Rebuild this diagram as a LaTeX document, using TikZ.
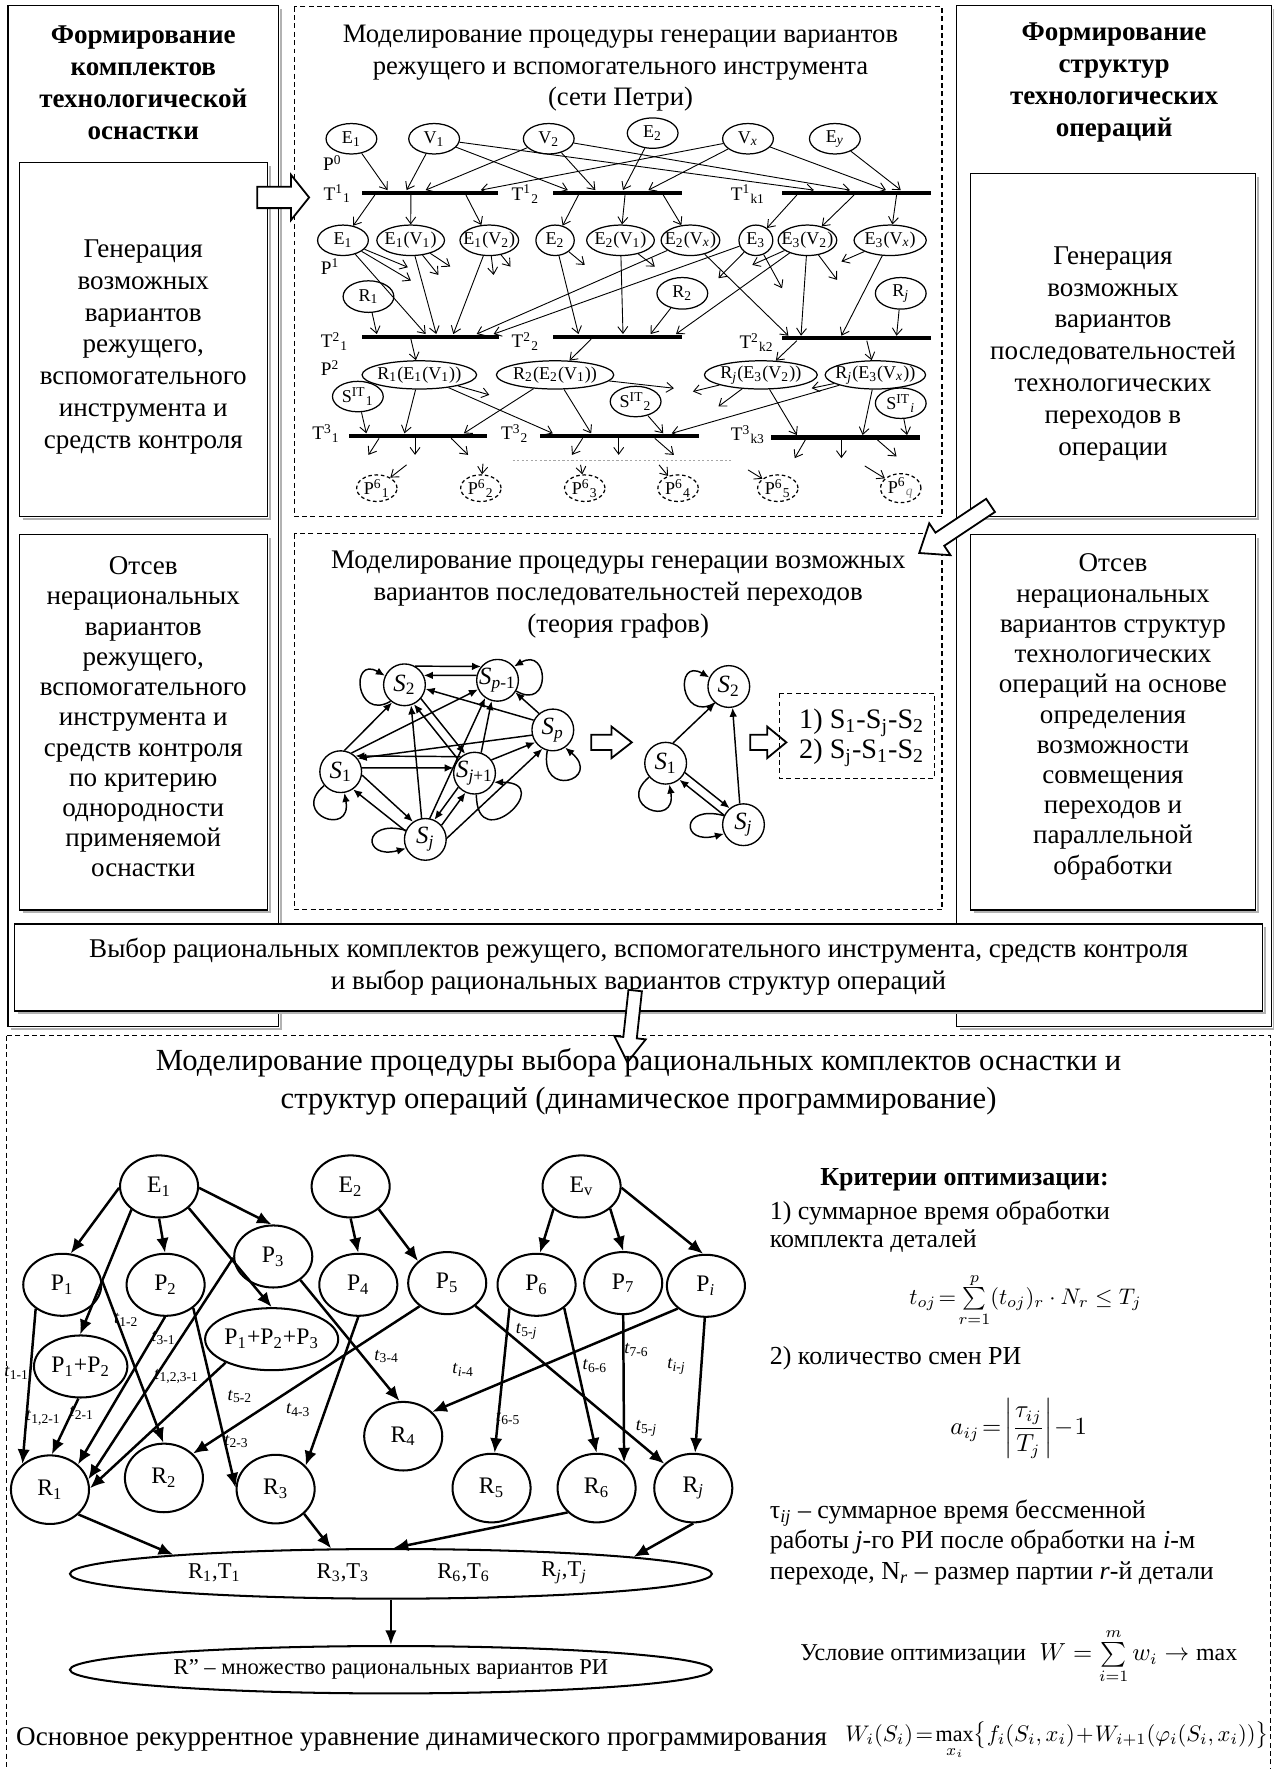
\documentclass[tikz,border=0pt]{standalone}
\usepackage{amsmath}
\usepackage{fontspec}
\setmainfont{Liberation Serif}
\usetikzlibrary{arrows.meta,shapes.geometric}

\newcommand\fs[2]{\fontsize{#1}{#2}\selectfont}
\newcommand\sbs[1]{\textsubscript{#1}}
\newcommand\sps[1]{\textsuperscript{#1}}
\newcommand\mb[1]{\makebox[0pt]{#1}}
\newcommand\supsub[2]{\sps{#1}\sbs{#2}}

% solid frame with a grey drop line on the right and bottom
\newcommand\framebx[5][]{%
  \draw[gray!60, line width=0.9pt] (#2+3,#5+2) -- (#4+2,#5+2) -- (#4+2,#3+3);
  \draw[line width=0.6pt,#1] (#2,#3) rectangle (#4,#5);}

% hollow block arrow: tail x, tail y, direction, length, half shaft, half head, head length
\newcommand\blockarrow[7]{%
  \begin{scope}[shift={(#1,#2)},rotate=#3]
    \draw[fill=white,line width=0.8pt,line join=miter]
      (0,-#5) -- (#4-#7,-#5) -- (#4-#7,-#6) -- (#4,0) -- (#4-#7,#6) -- (#4-#7,#5) -- (0,#5) -- cycle;
  \end{scope}}

\begin{document}
\begin{tikzpicture}[x=0.5pt,y=-0.5pt,
  every node/.style={inner sep=0pt},
  ctext/.style={align=center,font=\fs{12}{14.1}},
  pn/.style={ellipse,draw,line width=0.55pt,minimum width=22.5pt,minimum height=13.5pt,font=\fs{8}{9}},
  pnd/.style={pn,dash pattern=on 1.6pt off 1.2pt},
  tbar/.style={rectangle,fill=black,minimum height=1.8pt},
  pa/.style={line width=0.4pt,-{Straight Barb[length=3pt,width=4.4pt]}},
  lbl/.style={font=\fs{8.5}{9}},
  gn/.style={circle,draw,line width=0.6pt,minimum size=18.5pt,font=\fs{11}{12}},
  ga/.style={line width=0.65pt,-{Latex[length=4pt,width=3.4pt]}},
  dn/.style={ellipse,draw,line width=0.9pt,minimum width=34.6pt,minimum height=27.5pt,font=\fs{10.5}{12}},
  rn/.style={dn,minimum height=30.4pt},
  da/.style={line width=1.1pt,-{Latex[length=6.5pt,width=5.5pt]}},
  tl/.style={font=\fs{8}{9}},
  dbox/.style={draw,line width=0.5pt,dash pattern=on 2.2pt off 1.5pt},
  rtext/.style={anchor=west,font=\fs{11.5}{13.5}},
]
\path[use as bounding box,fill=white] (0,0) rectangle (1129,1568);

% ---------- frames ----------
\framebx{7}{5}{247}{910}
\framebx{848}{5}{1127}{910}
\framebx{17}{144}{237}{458}
\framebx{17}{474}{237}{806.5}
\framebx{860}{154}{1113}{458}
\framebx{860}{474}{1113}{806.5}
\draw[dbox] (261,6) rectangle (835,458);
\draw[dbox] (261,473) rectangle (835,806.5);
\draw[dbox] (6,918) rectangle (1126,1580);
\framebx[fill=white]{13}{819}{1119}{896}

% ---------- side columns ----------
\node[ctext,font=\fs{12}{14.2}\bfseries] (lhead) at (127,73.5) {Формирование\\комплектов\\технологической\\оснастки};
\node[ctext] (lgen) at (127,307.5) {Генерация\\возможных\\вариантов\\режущего,\\вспомогательного\\инструмента и\\средств контроля};
\node[ctext,font=\fs{12}{13.4}] (lcut) at (127,635.5) {Отсев\\нерациональных\\вариантов\\режущего,\\вспомогательного\\инструмента и\\средств контроля\\по критерию\\однородности\\применяемой\\оснастки};
\node[ctext,font=\fs{12}{14.2}\bfseries] (rhead) at (987.5,73.5) {Формирование\\структур\\технологических\\операций};
\node[ctext] (rgen) at (986.5,313.5) {Генерация\\возможных\\вариантов\\последовательностей\\технологических\\переходов в\\операции};
\node[ctext,font=\fs{12}{13.4}] (rcut) at (986.5,635.5) {Отсев\\нерациональных\\вариантов структур\\технологических\\операций на основе\\определения\\возможности\\совмещения\\переходов и\\параллельной\\обработки};
\node[align=center,font=\fs{12}{14}] (seltxt) at (566,857) {Выбор рациональных комплектов режущего, вспомогательного инструмента, средств контроля\\и выбор рациональных вариантов структур операций};

% ---------- block arrows ----------
\blockarrow{228}{175}{0}{46}{9.5}{20}{16}
\blockarrow{878}{448}{213.7}{76}{7}{17}{22}
\blockarrow{524}{658}{0}{36}{6.8}{14}{18}
\blockarrow{665}{658}{0}{32}{6.8}{14}{17}
\blockarrow{563}{878}{263.8}{64}{6}{14}{22}

% ---------- Petri net ----------
\node[align=center,font=\fs{11.8}{14}] (ptitle) at (550,60.6) {Моделирование процедуры генерации вариантов\\режущего и вспомогательного инструмента\\(сети Петри)};

\node[pn] (pE1) at (311.5,123) {\mb{E\sbs{1}}};
\node[pn] (pV1) at (384.8,123) {\mb{V\sbs{1}}};
\node[pn] (pV2) at (486.4,123) {\mb{V\sbs{2}}};
\node[pn] (pE2) at (578.5,118) {\mb{E\sbs{2}}};
\node[pn] (pVx) at (663,123) {\mb{V\sbs{\textit{x}}}};
\node[pn] (pEy) at (740,123) {\mb{E\sbs{\textit{y}}}};
\node[lbl] (lP0) at (294.6,144.7) {P\sps{0}};

\node[tbar,minimum width=60pt] (T11) at (381,170.7) {};
\node[tbar,minimum width=57.4pt] (T12) at (547.4,170.7) {};
\node[tbar,minimum width=65.9pt] (Tk1) at (758.9,170.7) {};
\node[lbl] (lT11) at (299,172) {T\supsub{1}{1}};
\node[lbl] (lT12) at (465.7,172) {T\supsub{1}{2}};
\node[lbl] (lTk1) at (663,172) {T\supsub{1}{k1}};

\node[pn] (qE1) at (304,213) {\mb{E\sbs{1}}};
\node[pn,minimum width=30pt] (qE1V1) at (364,213) {\mb{E\sbs{1}(V\sbs{1})}};
\node[pn,minimum width=26pt] (qE1V2) at (433.7,213) {\mb{E\sbs{1}(V\sbs{2})}};
\node[pn,minimum width=17pt] (qE2) at (492,213) {\mb{E\sbs{2}}};
\node[pn,minimum width=30pt] (qE2V1) at (550,213) {\mb{E\sbs{2}(V\sbs{1})}};
\node[pn,minimum width=26pt] (qE2Vx) at (612,213) {\mb{E\sbs{2}(V\sbs{\textit{x}})}};
\node[pn,minimum width=15pt] (qE3) at (670,213) {\mb{E\sbs{3}}};
\node[pn,minimum width=26pt] (qE3V2) at (715.7,213) {\mb{E\sbs{3}(V\sbs{2})}};
\node[pn,minimum width=32pt] (qE3Vx) at (789,213) {\mb{E\sbs{3}(V\sbs{\textit{x}})}};
\node[lbl] (lP1) at (292.7,236.3) {P\sps{1}};

\node[pn,minimum height=14pt] (pR1) at (326.6,262.9) {\mb{R\sbs{1}}};
\node[pn,minimum height=14pt] (pR2) at (604.8,260) {\mb{R\sbs{2}}};
\node[pn,minimum height=14pt] (pRj) at (798.4,260) {\mb{R\sbs{\textit{j}}}};

\node[tbar,minimum width=60.5pt] (T21) at (381.5,298.3) {};
\node[tbar,minimum width=57.4pt] (T22) at (547.4,298.3) {};
\node[tbar,minimum width=65.9pt] (Tk2) at (758.9,299.8) {};
\node[lbl] (lT21) at (296.5,302.7) {T\supsub{2}{1}};
\node[lbl] (lT22) at (465.7,302.7) {T\supsub{2}{2}};
\node[lbl] (lTk2) at (670.6,303.6) {T\supsub{2}{k2}};
\node[lbl] (lP2) at (292.7,326.4) {P\sps{2}};

\node[pn,minimum width=50.75pt,minimum height=12.5pt] (rR1) at (371.7,332.3) {\mb{R\sbs{1}(E\sbs{1}(V\sbs{1}))}};
\node[pn,minimum width=52pt,minimum height=12.5pt] (rR2) at (492,332.3) {\mb{R\sbs{2}(E\sbs{2}(V\sbs{1}))}};
\node[pn,minimum width=50pt,minimum height=12.5pt] (rRj2) at (674.4,332.3) {\mb{R\sbs{\textit{j}}(E\sbs{3}(V\sbs{2}))}};
\node[pn,minimum width=44.5pt,minimum height=12.5pt] (rRjx) at (775.9,332.3) {\mb{R\sbs{\textit{j}}(E\sbs{3}(V\sbs{\textit{x}}))}};
\node[pn] (sS1) at (317.2,351.5) {\mb{S\supsub{IT}{1}}};
\node[pn] (sS2) at (563.4,355.9) {\mb{S\supsub{IT}{2}}};
\node[pn] (sSi) at (798.4,357.4) {\mb{S\supsub{IT}{\textit{i}}}};

\node[tbar,minimum width=61.1pt] (T31) at (370.7,386.3) {};
\node[tbar,minimum width=70.5pt] (T32) at (549.3,386.3) {};
\node[tbar,minimum width=65.8pt] (Tk3) at (749.6,387.8) {};
\node[lbl] (lT31) at (289,384) {T\supsub{3}{1}};
\node[lbl] (lT32) at (456.3,384) {T\supsub{3}{2}};
\node[lbl] (lTk3) at (663,385) {T\supsub{3}{k3}};
\draw[gray!70,line width=0.8pt,dash pattern=on 1pt off 1pt] (454.4,408.2) -- (648,408.2);

\node[pnd,minimum width=17.9pt,minimum height=11.8pt] (u1) at (334,432.7) {\mb{P\supsub{6}{1}}};
\node[pnd,minimum width=17.9pt,minimum height=11.8pt] (u2) at (426.2,432.7) {\mb{P\supsub{6}{2}}};
\node[pnd,minimum width=17.9pt,minimum height=11.8pt] (u3) at (518.3,432.7) {\mb{P\supsub{6}{3}}};
\node[pnd,minimum width=17.9pt,minimum height=11.8pt] (u4) at (601,432.7) {\mb{P\supsub{6}{4}}};
\node[pnd,minimum width=17.9pt,minimum height=11.8pt] (u5) at (689.4,432.7) {\mb{P\supsub{6}{5}}};
\node[pnd,minimum width=17.9pt,minimum height=11.8pt] (u6) at (798.4,432.7) {\mb{P\supsub{6}{\textcolor{gray}{\textit{q}}}}};

% places P0 -> first transitions
\draw[pa] (pE1) -- (343.5,0 |- T11.north);
\draw[pa] (pV1) -- (360.4,0 |- T11.north);
\draw[pa] (pV1) -- (503.3,0 |- T12.north);
\draw[pa] (pV1) -- (721.4,0 |- Tk1.north);
\draw[pa] (pV2) -- (377.3,0 |- T11.north);
\draw[pa] (pV2) -- (527.7,0 |- T12.north);
\draw[pa] (pV2) -- (753.3,0 |- Tk1.north);
\draw[pa] (pE2) -- (552.2,0 |- T12.north);
\draw[pa] (pVx) -- (426.2,0 |- T11.north);
\draw[pa] (pVx) -- (574.7,0 |- T12.north);
\draw[pa] (pVx) -- (785.3,0 |- Tk1.north);
\draw[pa] (pEy) -- (798.4,0 |- Tk1.north);
% first transitions -> P1
\draw[pa] (332.2,0 |- T11.south) -- (qE1);
\draw[pa] (364.2,0 |- T11.south) -- (qE1V1);
\draw[pa] (413,0 |- T11.south) -- (qE1V2);
\draw[pa] (512.7,0 |- T12.south) -- (qE2);
\draw[pa] (554,0 |- T12.south) -- (qE2V1);
\draw[pa] (587.9,0 |- T12.south) -- (qE2Vx);
\draw[pa] (706.3,0 |- Tk1.south) -- (qE3);
\draw[pa] (757,0 |- Tk1.south) -- (qE3V2);
\draw[pa] (794.7,0 |- Tk1.south) -- (qE3Vx);
% P1 -> second transitions
\draw[pa] (qE1) -- (377.3,0 |- T21.north);
\draw[pa] (qE1V1) -- (386.7,0 |- T21.north);
\draw[pa] (qE1V2) -- (401.8,0 |- T21.north);
\draw[pa] (qE2Vx) -- (422.5,0 |- T21.north);
\draw[pa] (qE3) -- (437.5,0 |- T21.north);
\draw[pa] (pR1) -- (334,0 |- T21.north);
\draw[pa] (qE2) -- (512.7,0 |- T22.north);
\draw[pa] (qE2V1) -- (552.2,0 |- T22.north);
\draw[pa] (pR2) -- (576.6,0 |- T22.north);
\draw[pa] (qE3V2) -- (599.2,0 |- T22.north);
\draw[pa] (qE2Vx) -- (698.8,0 |- Tk2.north);
\draw[pa] (qE3V2) -- (710,0 |- Tk2.north);
\draw[pa] (qE3Vx) -- (745.8,0 |- Tk2.north);
\draw[pa] (pRj) -- (794.7,0 |- Tk2.north);
% arcs to transitions not shown
\draw[pa] (qE1) -- (361.5,236.9) coordinate (d1);
\draw[pa] (qE1) -- (364.2,248.7) coordinate (d2);
\draw[pa] (qE1V1) -- (388.6,243.7) coordinate (d3);
\draw[pa] (qE1V1) -- (399.1,236.3) coordinate (d4);
\draw[pa] (qE1V2) -- (437.5,243.7) coordinate (d5);
\draw[pa] (qE1V2) -- (452.5,236.3) coordinate (d6);
\draw[pa] (qE2) -- (518.3,234.8) coordinate (d7);
\draw[pa] (qE2V1) -- (580.4,236.3) coordinate (d8);
\draw[pa] (qE3) -- (636.8,246.6) coordinate (d9);
\draw[pa] (qE3) -- (693.2,255.5) coordinate (d10);
\draw[pa] (qE3V2) -- (666.8,234.8) coordinate (d11);
\draw[pa] (qE3V2) -- (742,248.1) coordinate (d12);
\draw[pa] (qE3Vx) -- (745.8,231.8) coordinate (d13);
% second transitions -> P2
\draw[pa] (364.2,0 |- T21.south) -- (rR1);
\draw[pa] (524,0 |- T22.south) -- (rR2);
\draw[pa] (706.3,0 |- Tk2.south) -- (rRj2);
\draw[pa] (768.3,0 |- Tk2.south) -- (rRjx);
% P2 -> third transitions
\draw[pa] (sS1) -- (324.7,0 |- T31.north);
\draw[pa] (rR1) -- (358.5,0 |- T31.north);
\draw[pa] (rR1) -- (490,0 |- T32.north);
\draw[pa] (rR2) -- (411.2,0 |- T31.north);
\draw[pa] (rR2) -- (524,0 |- T32.north);
\draw[pa] (sS2) -- (587.9,0 |- T32.north);
\draw[pa] (rRjx) -- (595.4,0 |- T32.north);
\draw[pa] (rRj2) -- (706.3,0 |- Tk3.north);
\draw[pa] (rRjx) -- (764.6,0 |- Tk3.north);
\draw[pa] (sSi) -- (804,0 |- Tk3.north);
\draw[pa] (rR1) -- (433.7,350) coordinate (d14);
\draw[pa] (rR2) -- (597.3,344.1) coordinate (d15);
\draw[pa] (rRj2) -- (614.2,347) coordinate (d16);
\draw[pa] (rRj2) -- (636.8,360.3) coordinate (d17);
\draw[pa] (rRjx) -- (719.5,344.1) coordinate (d18);
% third transitions -> outputs
\draw[pa] (336,0 |- T31.south) -- (326.6,403.2) coordinate (e1);
\draw[pa] (367.9,0 |- T31.south) -- (367.9,403.2) coordinate (e2);
\draw[pa] (399.9,0 |- T31.south) -- (414.9,403.2) coordinate (e3);
\draw[pa] (516.4,0 |- T32.south) -- (507,403.2) coordinate (e4);
\draw[pa] (548.4,0 |- T32.south) -- (548.4,403.2) coordinate (e5);
\draw[pa] (580.4,0 |- T32.south) -- (597.3,403.2) coordinate (e6);
\draw[pa] (713.8,0 |- Tk3.south) -- (704.4,406.1) coordinate (e7);
\draw[pa] (745.8,0 |- Tk3.south) -- (745.8,406.1) coordinate (e8);
\draw[pa] (777.8,0 |- Tk3.south) -- (794.7,404.6) coordinate (e9);
\draw[pa] (360.4,412) coordinate (f1) -- (u1);
\draw[pa] (428.1,411) coordinate (f2) -- (u2);
\draw[pa] (514.6,412) coordinate (f3) -- (u3);
\draw[pa] (584.1,412) coordinate (f4) -- (u4);
\draw[pa] (663,416.5) coordinate (f5) -- (u5);
\draw[pa] (766.5,413) coordinate (f6) -- (u6);

% ---------- graphs ----------
\node[align=center,font=\fs{11.9}{14}] (gtitle) at (548,527) {Моделирование процедуры генерации возможных\\вариантов последовательностей переходов\\(теория графов)};

\node[gn] (gS2) at (358.5,607) {\mb{\textit{S}\sbs{2}}};
\node[gn] (gSp1) at (441,603) {\mb{\textit{S}\sbs{\textit{p}-1}}};
\node[gn] (gSp) at (490,647) {\mb{\textit{S}\sbs{\textit{p}}}};
\node[gn] (gS1) at (302,684) {\mb{\textit{S}\sbs{1}}};
\node[gn] (gSj1) at (420.6,685.3) {\mb{\textit{S}\sbs{\textit{j}+1}}};
\node[gn] (gSj) at (377,744) {\mb{\textit{S}\sbs{\textit{j}}}};

\draw[ga] (gS2.60) -- (gSp1.140);
\draw[ga] (gSp1.167) -- (gS2.26);
\draw[ga] (gSp.153) -- (gS2.349);
\draw[ga] (gSp.130) -- (gSp1.326);
\draw[ga] (gS1.80) -- (gS2.235);
\draw[ga] (gS1.60) -- (gSp1.205);
\draw[ga] (gSp.194) -- (gS1.38);
\draw[ga] (gSj1.130) -- (gS1.47);
\draw[ga] (gS1.10) -- (gSj1.166);
\draw[ga] (gS1.351) -- (gSj.125);
\draw[ga] (gSj.157) -- (gS1.305);
\draw[ga] (gSj.100) -- (gS2.288);
\draw[ga] (gS2.320) -- (gSj1.116);
\draw[ga] (gSj1.140) -- (gS2.296);
\draw[ga] (gSj.78) -- (gSp1.235);
\draw[ga] (gSj1.72) -- (gSp1.254);
\draw[ga] (gSj1.38) -- (gSp.215);
\draw[ga] (gSj.3) -- (gSp.241);
\draw[ga] (gSj.41) -- (gSj1.245);
\draw[ga] (gSj1.221) -- (gSj.65);
\draw[ga] (gS2.230) .. controls +(210:18pt) and +(150:18pt) .. (gS2.155);
\draw[ga] (gSp1.330) .. controls +(330:18pt) and +(30:18pt) .. (gSp1.40);
\draw[ga] (gSp.255) .. controls +(260:22pt) and +(320:22pt) .. (gSp.305);
\draw[ga] (gS1.220) .. controls +(220:20pt) and +(280:20pt) .. (gS1.280);
\draw[ga] (gSj.155) .. controls +(165:20pt) and +(195:20pt) .. (gSj.205);
\draw[ga] (gSj1.275) .. controls +(270:28pt) and +(0:28pt) .. (gSj1.335);

\node[gn] (hS2) at (646,608.5) {\mb{\textit{S}\sbs{2}}};
\node[gn] (hS1) at (590,676.5) {\mb{\textit{S}\sbs{1}}};
\node[gn] (hSj) at (659,731) {\mb{\textit{S}\sbs{\textit{j}}}};
\draw[ga] (hS1.70) -- (hS2.230);
\draw[ga] (hSj.100) -- (hS2.280);
\draw[ga] (hS1.334) -- (hSj.130);
\draw[ga] (hSj.154) -- (hS1.310);
\draw[ga] (hS2.230) .. controls +(210:18pt) and +(150:18pt) .. (hS2.155);
\draw[ga] (hS1.220) .. controls +(220:20pt) and +(280:20pt) .. (hS1.280);
\draw[ga] (hSj.155) .. controls +(165:20pt) and +(195:20pt) .. (hSj.205);

\draw[dbox] (691,614.4) rectangle (828.5,689.8);
\node[anchor=west,align=left,font=\fs{12.5}{13.3}] (seqs) at (708,654) {1) S\sbs{1}-S\sbs{j}-S\sbs{2}\\2) S\sbs{j}-S\sbs{1}-S\sbs{2}};

% ---------- dynamic programming ----------
\node[align=center,font=\fs{13.6}{17}] (dptitle) at (566,959) {Моделирование процедуры выбора рациональных комплектов оснастки и\\структур операций (динамическое программирование)};

\node[dn] (E1) at (141,1051.6) {\mb{E\sbs{1}}};
\node[dn] (E2) at (310.8,1051.6) {\mb{E\sbs{2}}};
\node[dn] (Ev) at (515.5,1051.6) {\mb{E\sbs{v}}};
\node[dn] (P1) at (55.2,1138.8) {\mb{P\sbs{1}}};
\node[dn] (P2) at (146.8,1138.8) {\mb{P\sbs{2}}};
\node[dn] (P3) at (242.2,1113.7) {\mb{P\sbs{3}}};
\node[dn] (P4) at (317.6,1138.8) {\mb{P\sbs{4}}};
\node[dn] (P5) at (396.4,1137.3) {\mb{P\sbs{5}}};
\node[dn] (P6) at (475.6,1138.8) {\mb{P\sbs{6}}};
\node[dn] (P7) at (552.4,1137.3) {\mb{P\sbs{7}}};
\node[dn] (Pi) at (625.7,1139.7) {\mb{P\sbs{\textit{i}}}};
\node[dn,minimum width=41.4pt] (P12) at (71.5,1211.2) {\mb{P\sbs{1}+P\sbs{2}}};
\node[dn,minimum width=59pt] (P123) at (240.8,1187) {\mb{P\sbs{1}+P\sbs{2}+P\sbs{3}}};
\node[rn] (R1) at (44.3,1320.4) {\mb{R\sbs{1}}};
\node[rn] (R2) at (145.3,1310) {\mb{R\sbs{2}}};
\node[rn] (R3) at (244.3,1319.9) {\mb{R\sbs{3}}};
\node[rn] (R4) at (357.4,1273) {\mb{R\sbs{4}}};
\node[rn] (R5) at (435.7,1319) {\mb{R\sbs{5}}};
\node[rn] (R6) at (528.8,1319) {\mb{R\sbs{6}}};
\node[rn] (Rj) at (614.5,1319) {\mb{R\sbs{\textit{j}}}};
\node[ellipse,draw,line width=0.9pt,minimum width=284.5pt,minimum height=22pt] (Rall) at (346.5,1395) {};
\node[ellipse,draw,line width=0.9pt,minimum width=284.5pt,minimum height=21pt,font=\fs{10}{12}] (Rbest) at (346.5,1480) {\mb{R" – множество рациональных вариантов РИ}};
\node[font=\fs{10}{12}] (s1) at (190,1394) {R\sbs{1},T\sbs{1}};
\node[font=\fs{10}{12}] (s3) at (304,1394) {R\sbs{3},T\sbs{3}};
\node[font=\fs{10}{12}] (s6) at (411,1394) {R\sbs{6},T\sbs{6}};
\node[font=\fs{10}{12}] (sj) at (500,1394) {R\sbs{\textit{j}},T\sbs{\textit{j}}};

\draw[da] (E1.182) -- (P1.75);
\draw[da] (E1.220) -- (P12.91);
\draw[da] (E1.270) -- (P2.91);
\draw[da] (E1.324) -- (P123.90);
\draw[da] (E1.358) -- (P3.93);
\draw[da] (E2.270) -- (P4.90);
\draw[da] (E2.321) -- (P5.143);
\draw[da] (Ev.219) -- (P6.84);
\draw[da] (Ev.322) -- (P7.90);
\draw[da] (Ev.358) -- (Pi.95);
\draw[da] (P1.222) -- (R1.137);
\draw[da] (P1.7) -- (R2.91);
\draw[da] (P12.266) -- (R1.87);
\draw[da] (P2.269) -- (R1.42);
\draw[da] (P3.182) -- (R1.15);
\draw[da] (P123.207) -- (R1.2);
\draw[da] (P2.320) -- (R3.178);
\draw[da] (P5.220) -- (R2.40);
\draw[da] (P4.270) -- (R3.38);
\draw[da] (P3.319) -- (R4.96);
\draw[da] (Pi.219) -- (R4.40);
\draw[da] (P5.321) -- (Rj.140);
\draw[da] (P6.221) -- (R5.85);
\draw[da] (P6.320) -- (R6.90);
\draw[da] (P7.270) -- (R6.43);
\draw[da] (Pi.268) -- (Rj.87);
\draw[da] (R1.319) -- (Rall.175.6);
\draw[da] (R3.319) -- (Rall.157.7);
\draw[da] (R6.220) -- (Rall.84);
\draw[da] (Rj.270) -- (Rall.4.7);
\draw[line width=0.9pt,-{Latex[length=6.5pt,width=5pt]}] (Rall.south) -- (Rbest.north);

\node[tl] (t11) at (14.8,1217) {\textit{t}\sbs{1-1}};
\node[tl] (t12) at (112,1170) {\textit{t}\sbs{1-2}};
\node[tl] (t31) at (145,1186) {\textit{t}\sbs{3-1}};
\node[tl] (t1231) at (156.6,1220) {\textit{t}\sbs{1,2,3-1}};
\node[tl] (t121) at (38.4,1257) {\textit{t}\sbs{1,2-1}};
\node[tl] (t21) at (72.4,1252.5) {\textit{t}\sbs{2-1}};
\node[tl] (t52) at (212.7,1237.7) {\textit{t}\sbs{5-2}};
\node[tl] (t43) at (264.4,1249.6) {\textit{t}\sbs{4-3}};
\node[tl] (t23) at (209.7,1277.6) {\textit{t}\sbs{2-3}};
\node[tl] (t34) at (342.7,1202.3) {\textit{t}\sbs{3-4}};
\node[tl] (t5ja) at (466.8,1180) {\textit{t}\sbs{5-\textit{j}}};
\node[tl] (ti4) at (410.6,1214) {\textit{t}\sbs{\textit{i}-4}};
\node[tl] (t66) at (527.3,1211) {\textit{t}\sbs{6-6}};
\node[tl] (t76) at (564.2,1196.4) {\textit{t}\sbs{7-6}};
\node[tl] (tij) at (599.7,1211) {\textit{t}\sbs{\textit{i}-\textit{j}}};
\node[tl] (t65) at (450.5,1257) {\textit{t}\sbs{6-5}};
\node[tl] (t5jb) at (573.1,1265.8) {\textit{t}\sbs{5-\textit{j}}};

% ---------- criteria ----------
\node[font=\fs{11.5}{13.5}\bfseries] (crit) at (855,1046) {Критерии оптимизации:};
\node[rtext] (c1) at (682,1075) {1) суммарное время обработки};
\node[rtext] (c1b) at (682,1100) {комплекта деталей};
\node[font=\fs{9.8}{12}] (f1) at (909,1152) {$t_{oj}\!=\!\sum\limits_{r=1}^{p}(t_{oj})_r\cdot N_r\le T_j$};
\node[rtext] (c2) at (682,1204) {2) количество смен РИ};
\node[font=\fs{10.5}{12}] (f2) at (903,1266) {$a_{ij}\!=\!\left|\dfrac{\tau_{ij}}{T_j}\right|\!-\!1$};
\node[rtext,align=left] (tau) at (682,1367) {τ\sbs{\textit{ij}} – суммарное время бессменной\\работы \textit{j}-го РИ после обработки на \textit{i}-м\\переходе, N\sbs{\textit{r}} – размер партии \textit{r}-й детали};
\node[anchor=west,font=\fs{10.7}{13}] (cond) at (709,1467) {Условие оптимизации};
\node[font=\fs{10.6}{13}] (f3) at (1009,1468) {$W=\sum\limits_{i=1}^{m} w_i\to\max$};
\node[anchor=west,font=\fs{12}{14}] (rec) at (14,1542) {Основное рекуррентное уравнение динамического программирования};
\node[font=\fs{9.8}{12}] (f4) at (937,1543) {$W_i(S_i)\!=\!\max\limits_{x_i}\bigl\{f_i(S_i,x_i)\!+\!W_{i+1}(\varphi_i(S_i,x_i))\bigr\}$};
\end{tikzpicture}
\end{document}
